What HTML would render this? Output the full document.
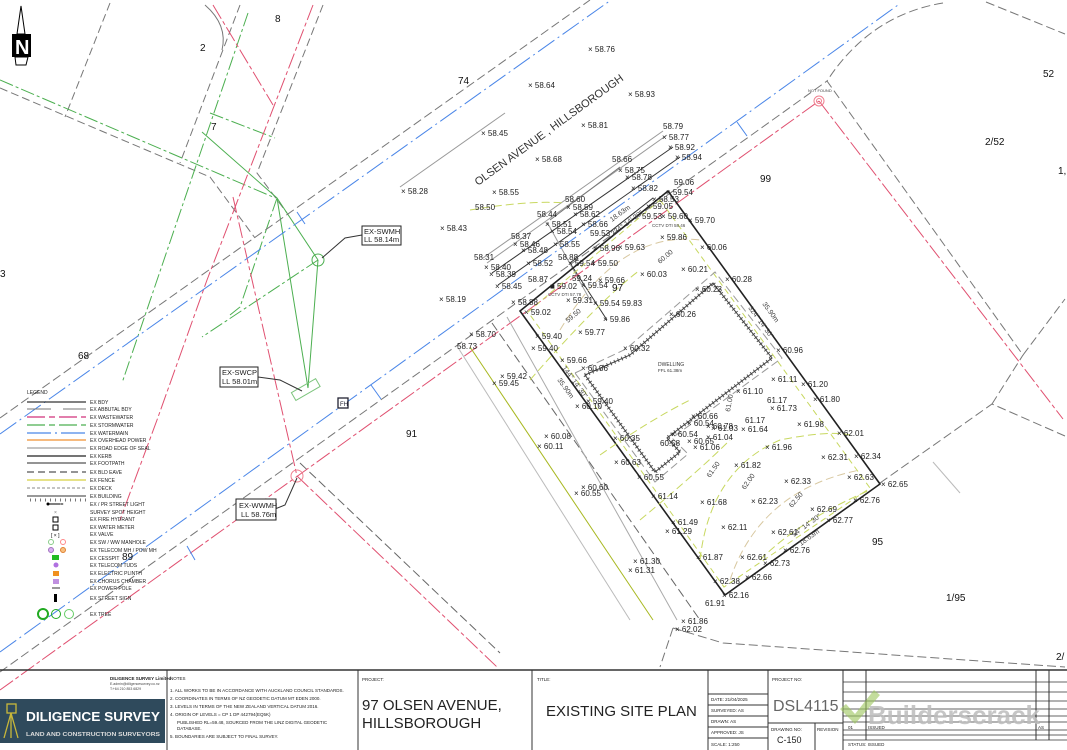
<!DOCTYPE html>
<html><head><meta charset="utf-8"><style>
html,body{margin:0;padding:0;background:#fff;}
svg{display:block;font-family:"Liberation Sans",sans-serif;}
text{font-family:"Liberation Sans",sans-serif;}
.s{font-size:8px;fill:#222;}
.t{font-size:5px;fill:#222;}
.lot{font-size:10px;fill:#111;}
</style></head><body>
<svg width="1067" height="750" viewBox="0 0 1067 750" xmlns="http://www.w3.org/2000/svg">
<rect width="1067" height="750" fill="#fff"/>
<!-- north arrow -->
<polygon points="21,6 25,34 17,34" fill="none" stroke="#000" stroke-width="1"/>
<rect x="12" y="34" width="19" height="23" fill="#000"/>
<text x="15" y="54" font-size="20" font-weight="bold" fill="#fff">N</text>
<polygon points="15,57 28,57 26,65 16,65" fill="none" stroke="#000" stroke-width="1"/>

<g fill="none" stroke-width="1">
<polyline points="0,88 210,177 255,238" stroke="#777" stroke-dasharray="8,4"/>
<line x1="110" y1="3" x2="65" y2="117" stroke="#777" stroke-dasharray="8,4"/>
<line x1="240" y1="5" x2="180" y2="163" stroke="#777" stroke-dasharray="8,4"/>
<polyline points="323,5 257,173 287,213" stroke="#777" stroke-dasharray="8,4"/>
<path d="M205,5 Q228,25 222,50" stroke="#777"/>
<line x1="0" y1="80" x2="273" y2="197" stroke="#4caf50" stroke-dasharray="14,3,3,3"/>
<line x1="248" y1="13" x2="122" y2="383" stroke="#4caf50" stroke-dasharray="14,3,3,3"/>
<line x1="210" y1="113" x2="275" y2="138" stroke="#4caf50" stroke-dasharray="14,3,3,3"/>
<polyline points="202,132 277,198 318,260" stroke="#4caf50"/>
<polyline points="277,198 240,307 230,315" stroke="#4caf50" stroke-dasharray="14,3,3,3"/>
<line x1="318" y1="260" x2="202" y2="337" stroke="#4caf50" stroke-dasharray="14,3,3,3"/>
<line x1="318" y1="260" x2="308" y2="388" stroke="#4caf50"/>
<line x1="277" y1="198" x2="308" y2="388" stroke="#4caf50"/>
<rect x="292" y="385" width="28" height="9" stroke="#7cc47c" transform="rotate(-30 306 390)"/>
<circle cx="318" cy="260" r="6" stroke="#4caf50"/>
<line x1="213" y1="5" x2="273" y2="105" stroke="#e05070" stroke-dasharray="16,3,4,3"/>
<polyline points="313,5 207,280 157,420 120,520" stroke="#e05070" stroke-dasharray="16,3,4,3"/>
<polyline points="233,197 297,476 497,667" stroke="#e05070" stroke-dasharray="16,3,4,3"/>
<line x1="0" y1="418" x2="590" y2="0" stroke="#777" stroke-dasharray="9,4"/>
<line x1="0" y1="434" x2="611" y2="0" stroke="#4a86e8" stroke-dasharray="20,4,2,4"/>
<line x1="297" y1="212" x2="305" y2="224" stroke="#4a86e8"/>
<line x1="400" y1="187" x2="505" y2="113" stroke="#999"/>
<line x1="487" y1="263" x2="667" y2="135" stroke="#999"/>
<line x1="483" y1="258" x2="663" y2="131" stroke="#999"/>
<line x1="492" y1="273" x2="673" y2="147" stroke="#333"/>
<line x1="498" y1="285" x2="680" y2="157" stroke="#333"/>
<line x1="550" y1="220" x2="620" y2="167" stroke="#777"/>
<line x1="570" y1="263" x2="653" y2="198" stroke="#333"/>
<line x1="570" y1="263" x2="607" y2="320" stroke="#333"/>
<line x1="547" y1="222" x2="590" y2="300" stroke="#999"/>
<line x1="0" y1="652" x2="898" y2="5" stroke="#4a86e8" stroke-dasharray="20,4,2,4"/>
<line x1="0" y1="672" x2="827" y2="81" stroke="#777" stroke-dasharray="9,4"/>
<line x1="0" y1="690" x2="819" y2="101" stroke="#e05070" stroke-dasharray="16,3,4,3"/>
<line x1="371" y1="385" x2="381" y2="399" stroke="#4a86e8"/>
<line x1="737" y1="122" x2="747" y2="136" stroke="#4a86e8"/>
<line x1="187" y1="546" x2="195" y2="560" stroke="#4a86e8"/>
<path d="M943,3 Q870,15 827,81 L1023,355 L1065,299" stroke="#777" stroke-dasharray="9,4"/>
<line x1="986" y1="2" x2="1065" y2="34" stroke="#777" stroke-dasharray="9,4"/>
<polyline points="880,483 992,404 1065,436" stroke="#777" stroke-dasharray="9,4"/>
<line x1="992" y1="404" x2="1023" y2="355" stroke="#777" stroke-dasharray="9,4"/>
<line x1="819" y1="101" x2="1063" y2="419" stroke="#e05070" stroke-dasharray="16,3,4,3"/>
<line x1="933" y1="462" x2="960" y2="493" stroke="#bbb"/>
<polyline points="673,628 723,643 1065,667" stroke="#777" stroke-dasharray="9,4"/>
<line x1="673" y1="628" x2="660" y2="667" stroke="#777" stroke-dasharray="9,4"/>
<line x1="300" y1="463" x2="500" y2="653" stroke="#666" stroke-dasharray="9,4"/>
<line x1="470" y1="347" x2="653" y2="620" stroke="#a8b820"/>
<line x1="492" y1="323" x2="700" y2="620" stroke="#666" stroke-dasharray="9,4"/>
<line x1="507" y1="317" x2="677" y2="620" stroke="#aaa"/>
<line x1="457" y1="346" x2="630" y2="620" stroke="#bbb"/>
<polygon points="668,191 880,484 725,595 520,311" stroke="#222" stroke-width="1.6"/>
<polygon points="660,200 870,488 724,587 528,312" stroke="#c8d860" stroke-dasharray="6,4"/>
<polygon points="585,375 630,355 713,283 772,358 667,438 680,452 655,472" stroke="#555" stroke-width="4" stroke-dasharray="1,3"/>
<polygon points="585,375 630,355 713,283 772,358 667,438 680,452 655,472" stroke="#444"/>
<polygon points="575,373 626,349 715,272 782,358 672,438 688,454 655,482" stroke="#999" stroke-dasharray="8,4"/>
<path d="M470,210 Q530,200 565,203" stroke="#c8d860" stroke-dasharray="8,4"/>
<path d="M560,330 Q620,230 700,240" stroke="#d8c8a0" stroke-dasharray="8,4"/>
<path d="M530,380 Q600,300 640,270" stroke="#c8d860" stroke-dasharray="8,4"/>
<path d="M700,560 Q710,470 780,440 Q830,430 850,435" stroke="#c8d860" stroke-dasharray="8,4"/>
<path d="M730,580 Q760,490 860,470" stroke="#d8c8a0" stroke-dasharray="8,4"/>
<path d="M760,560 Q800,520 870,490" stroke="#c8d860" stroke-dasharray="8,4"/>
<path d="M640,520 Q700,470 730,440" stroke="#c8d860" stroke-dasharray="8,4"/>
<path d="M600,455 Q650,420 690,400" stroke="#c8d860" stroke-dasharray="8,4"/>
<circle cx="297" cy="476" r="6" stroke="#f08090"/>
<circle cx="819" cy="101" r="5" stroke="#f08090"/>
<circle cx="819" cy="101" r="2.5" stroke="#f08090"/>
<polyline points="362,235 345,238 322,258" stroke="#333"/>
<polyline points="258,377 280,380 302,391" stroke="#333"/>
<polyline points="275,509 285,505 297,478" stroke="#333"/>
</g>
<rect x="338" y="398" width="10" height="10" fill="#fff" stroke="#223" stroke-width="1.3"/>
<text x="340" y="406" font-size="6" fill="#223">FH</text>
<rect x="362" y="226" width="39" height="19" fill="#fff" stroke="#222"/>
<text x="364" y="234" font-size="7.5" fill="#222">EX-SWMH</text><text x="364" y="242" font-size="7.5" fill="#222">LL 58.14m</text>
<rect x="220" y="367" width="38" height="20" fill="#fff" stroke="#222"/>
<text x="222" y="375" font-size="7.5" fill="#222">EX-SWCP</text><text x="222" y="384" font-size="7.5" fill="#222">LL 58.01m</text>
<rect x="236" y="499" width="40" height="21" fill="#fff" stroke="#222"/>
<text x="239" y="508" font-size="7.5" fill="#222">EX-WWMH</text><text x="241" y="517" font-size="7.5" fill="#222">LL 58.76m</text>
<text x="808" y="92" font-size="4" fill="#444">NOT FOUND</text>

<text x="478" y="186" font-size="11" fill="#333" transform="rotate(-36 478 186)">OLSEN AVENUE , HILLSBOROUGH</text>

<g class="lot">
<text x="200" y="51">2</text><text x="275" y="22">8</text><text x="211" y="130">7</text><text x="0" y="277">3</text>
<text x="78" y="359">68</text><text x="458" y="84">74</text><text x="760" y="182">99</text><text x="985" y="145">2/52</text>
<text x="1043" y="77">52</text><text x="1058" y="174">1,</text><text x="406" y="437">91</text><text x="122" y="560">89</text>
<text x="872" y="545">95</text><text x="946" y="601">1/95</text><text x="1056" y="660">2/</text><text x="612" y="291">97</text>
</g>

<g class="s">
<text x="588" y="52">× 58.76</text><text x="528" y="88">× 58.64</text><text x="628" y="97">× 58.93</text>
<text x="481" y="136">× 58.45</text><text x="581" y="128">× 58.81</text><text x="663" y="129">58.79</text>
<text x="662" y="140">× 58.77</text><text x="668" y="150">× 58.92</text><text x="675" y="160">× 58.94</text>
<text x="535" y="162">× 58.68</text><text x="612" y="162">58.66</text><text x="618" y="173">× 58.75</text>
<text x="625" y="180">× 58.78</text><text x="631" y="191">× 58.82</text><text x="674" y="185">59.06</text>
<text x="666" y="195">× 59.54</text><text x="401" y="194">× 58.28</text><text x="492" y="195">× 58.55</text>
<text x="475" y="210">58.50</text><text x="565" y="202">58.60</text><text x="566" y="210">× 58.59</text>
<text x="573" y="217">× 58.62</text><text x="652" y="202">× 58.53</text><text x="646" y="209">× 59.05</text>
<text x="537" y="217">58.44</text><text x="545" y="227">× 58.51</text><text x="581" y="227">× 58.66</text>
<text x="550" y="234">× 58.54</text><text x="590" y="236">59.53</text><text x="642" y="219">59.53</text>
<text x="661" y="219">× 59.60</text><text x="688" y="223">× 59.70</text><text x="440" y="231">× 58.43</text>
<text x="511" y="239">58.37</text><text x="513" y="247">× 58.46</text><text x="521" y="253">× 58.48</text>
<text x="553" y="247">× 58.55</text><text x="593" y="251">× 58.96</text><text x="618" y="250">× 59.63</text>
<text x="660" y="240">× 59.86</text><text x="700" y="250">× 60.06</text><text x="474" y="260">58.31</text>
<text x="484" y="270">× 58.40</text><text x="526" y="266">× 58.52</text><text x="558" y="260">58.88</text>
<text x="568" y="266">× 59.54</text><text x="591" y="266">× 59.50</text><text x="640" y="277">× 60.03</text>
<text x="681" y="272">× 60.21</text><text x="489" y="277">× 58.39</text><text x="528" y="282">58.87</text>
<text x="572" y="281">59.24</text><text x="598" y="283">× 59.66</text><text x="550" y="289">■ 59.02</text>
<text x="581" y="288">× 59.54</text><text x="725" y="282">× 60.28</text><text x="495" y="289">× 58.45</text>
<text x="695" y="292">× 60.23</text><text x="439" y="302">× 58.19</text><text x="566" y="303">× 59.31</text>
<text x="593" y="306">× 59.54</text><text x="622" y="306">59.83</text><text x="511" y="305">× 58.88</text>
<text x="524" y="315">× 59.02</text><text x="603" y="322">× 59.86</text><text x="669" y="317">× 60.26</text>
<text x="578" y="335">× 59.77</text><text x="469" y="337">× 58.70</text><text x="457" y="349">58.73</text>
<text x="535" y="339">× 59.40</text><text x="531" y="351">× 59.40</text><text x="623" y="351">× 60.32</text>
<text x="776" y="353">× 60.96</text><text x="560" y="363">× 59.66</text><text x="581" y="371">× 60.36</text>
<text x="500" y="379">× 59.42</text><text x="492" y="386">× 59.45</text><text x="771" y="382">× 61.11</text>
<text x="801" y="387">× 61.20</text><text x="736" y="394">× 61.10</text><text x="813" y="402">× 61.80</text>
<text x="586" y="404">× 59.40</text><text x="575" y="409">× 60.10</text><text x="767" y="403">61.17</text>
<text x="770" y="411">× 61.73</text><text x="797" y="427">× 61.98</text><text x="691" y="419">× 60.66</text>
<text x="687" y="426">× 60.54</text><text x="706" y="429">× 60.78</text><text x="711" y="431">× 61.03</text>
<text x="745" y="423">61.17</text><text x="741" y="432">× 61.64</text><text x="837" y="436">× 62.01</text>
<text x="544" y="439">× 60.08</text><text x="537" y="449">× 60.11</text><text x="671" y="437">× 60.54</text>
<text x="660" y="446">60.58</text><text x="687" y="444">× 60.65</text><text x="706" y="440">× 61.04</text>
<text x="693" y="450">× 61.06</text><text x="613" y="441">× 60.35</text><text x="765" y="450">× 61.96</text>
<text x="821" y="460">× 62.31</text><text x="854" y="459">× 62.34</text><text x="734" y="468">× 61.82</text>
<text x="614" y="465">× 60.63</text><text x="637" y="480">× 60.55</text><text x="847" y="480">× 62.63</text>
<text x="784" y="484">× 62.33</text><text x="581" y="490">× 60.60</text><text x="574" y="496">× 60.55</text>
<text x="651" y="499">× 61.14</text><text x="700" y="505">× 61.68</text><text x="751" y="504">× 62.23</text>
<text x="853" y="503">× 62.76</text><text x="881" y="487">× 62.65</text><text x="810" y="512">× 62.69</text>
<text x="826" y="523">× 62.77</text><text x="671" y="525">× 61.49</text><text x="665" y="534">× 61.29</text>
<text x="721" y="530">× 62.11</text><text x="771" y="535">× 62.61</text><text x="783" y="553">× 62.76</text>
<text x="696" y="560">× 61.87</text><text x="740" y="560">× 62.61</text><text x="763" y="566">× 62.73</text>
<text x="633" y="564">× 61.30</text><text x="628" y="573">× 61.31</text><text x="745" y="580">× 62.66</text>
<text x="713" y="584">× 62.38</text><text x="722" y="598">× 62.16</text><text x="705" y="606">61.91</text>
<text x="681" y="624">× 61.86</text><text x="675" y="632">× 62.02</text>
</g>
<g font-size="7" fill="#444">
<text x="660" y="264" transform="rotate(-40 660 264)">60.00</text>
<text x="568" y="323" transform="rotate(-40 568 323)">59.50</text>
<text x="730" y="412" transform="rotate(-80 730 412)">61.00</text>
<text x="710" y="478" transform="rotate(-55 710 478)">61.50</text>
<text x="745" y="490" transform="rotate(-55 745 490)">62.00</text>
<text x="792" y="508" transform="rotate(-50 792 508)">62.50</text>
<text x="612" y="222" transform="rotate(-36 612 222)">18.63m</text>
<text x="613" y="236" transform="rotate(-36 613 236)">234° 14' 30"</text>
<text x="762" y="304" transform="rotate(54 762 304)">35.90m</text>
<text x="748" y="308" transform="rotate(54 748 308)">324° 14' 30"</text>
<text x="562" y="368" transform="rotate(54 562 368)">144° 14' 30"</text>
<text x="557" y="380" transform="rotate(54 557 380)">35.90m</text>
<text x="794" y="537" transform="rotate(-36 794 537)">54° 14' 30"</text>
<text x="801" y="546" transform="rotate(-36 801 546)">18.63m</text>
</g>
<text x="652" y="227" font-size="4.5" fill="#444">CCTV DTI 58.46</text>
<text x="548" y="296" font-size="4.5" fill="#444">CCTV DTI 57.78</text>
<text x="658" y="366" font-size="5" fill="#333">DWELLING</text>
<text x="658" y="372" font-size="4.5" fill="#333">FFL 61.38m</text>

<text x="27" y="394" class="t">LEGEND</text>
<g stroke-width="1" fill="none">
<line x1="27" y1="402" x2="86" y2="402" stroke="#000"/>
<line x1="27" y1="409" x2="86" y2="409" stroke="#777" stroke-dasharray="24,12"/>
<line x1="27" y1="417" x2="86" y2="417" stroke="#d0307a" stroke-dasharray="18,4,6,4" stroke-width="1.3"/>
<line x1="27" y1="425" x2="86" y2="425" stroke="#4caf50" stroke-dasharray="18,4,6,4" stroke-width="1.3"/>
<line x1="27" y1="433" x2="86" y2="433" stroke="#4a86e8" stroke-dasharray="24,4,2,4" stroke-width="1.3"/>
<line x1="27" y1="440" x2="86" y2="440" stroke="#f09030" stroke-width="1.3"/>
<line x1="27" y1="448" x2="86" y2="448" stroke="#888"/>
<line x1="27" y1="456" x2="86" y2="456" stroke="#222" stroke-width="1.3"/>
<line x1="27" y1="463" x2="86" y2="463" stroke="#555" stroke-width="1.3"/>
<line x1="27" y1="472" x2="86" y2="472" stroke="#555" stroke-dasharray="7,4" stroke-width="1.3"/>
<line x1="27" y1="480" x2="86" y2="480" stroke="#d8d040" stroke-width="1.3"/>
<line x1="27" y1="488" x2="86" y2="488" stroke="#888" stroke-dasharray="3,2"/>
<line x1="27" y1="496" x2="86" y2="496" stroke="#333"/>
<line x1="30" y1="500" x2="86" y2="500" stroke="#777" stroke-width="3" stroke-dasharray="1,4"/>
</g>
<g class="t">
<text x="90" y="404">EX BDY</text><text x="90" y="411">EX ABBUTAL BDY</text><text x="90" y="419">EX WASTEWATER</text>
<text x="90" y="427">EX STORMWATER</text><text x="90" y="435">EX WATERMAIN</text><text x="90" y="442">EX OVERHEAD POWER</text>
<text x="90" y="450">EX ROAD EDGE OF SEAL</text><text x="90" y="458">EX KERB</text><text x="90" y="465">EX FOOTPATH</text>
<text x="90" y="474">EX BLD EAVE</text><text x="90" y="482">EX FENCE</text><text x="90" y="490">EX DECK</text>
<text x="90" y="498">EX BUILDING</text><text x="90" y="506">EX / PR STREET LIGHT</text><text x="90" y="514">SURVEY SPOT HEIGHT</text>
<text x="90" y="521">EX FIRE HYDRANT</text><text x="90" y="529">EX WATER METER</text><text x="90" y="536">EX VALVE</text>
<text x="90" y="544">EX SW / WW MANHOLE</text><text x="90" y="552">EX TELECOM MH / POW MH</text><text x="90" y="560">EX CESSPIT</text>
<text x="90" y="567">EX TELECOM TUDS</text><text x="90" y="575">EX ELECTRIC PLINTH</text><text x="90" y="583">EX CHORUS CHAMBER</text>
<text x="90" y="590">EX POWER POLE</text><text x="90" y="600">EX STREET SIGN</text><text x="90" y="616">EX TREE</text>
</g>
<g>
<line x1="48" y1="504" x2="60" y2="504" stroke="#000"/><circle cx="48" cy="504" r="1.5"/><text x="60" y="506" font-size="6">=</text>
<text x="54" y="514" font-size="5" fill="#777">×</text>
<rect x="53" y="517" width="5" height="5" fill="none" stroke="#000"/>
<rect x="53" y="525" width="5" height="5" fill="none" stroke="#000"/>
<text x="51" y="537" font-size="5">[ × ]</text>
<circle cx="51" cy="542" r="2.5" fill="none" stroke="#8c8"/><circle cx="63" cy="542" r="2.5" fill="none" stroke="#f88"/>
<circle cx="51" cy="550" r="2.5" fill="#d9b0f0" stroke="#a070c0"/><circle cx="63" cy="550" r="2.5" fill="#f8c080" stroke="#e08030"/>
<rect x="52" y="555" width="7" height="5" fill="#22bb22"/>
<circle cx="56" cy="565" r="2.5" fill="#b070e0"/>
<rect x="53" y="571" width="6" height="5" fill="#f09020"/>
<rect x="53" y="579" width="6" height="5" fill="#c090e0"/>
<line x1="52" y1="588" x2="60" y2="588" stroke="#333"/>
<rect x="54" y="594" width="3" height="8" fill="#000"/>
<circle cx="43" cy="614" r="5" fill="none" stroke="#2a2" stroke-width="2"/>
<circle cx="56" cy="614" r="4.5" fill="none" stroke="#2a2"/>
<circle cx="69" cy="614" r="4.5" fill="none" stroke="#6c6"/>
</g>

<!-- title block -->
<g fill="none" stroke="#333" stroke-width="1">
<line x1="0" y1="670" x2="1067" y2="670" stroke-width="1.5"/>
<line x1="167" y1="670" x2="167" y2="750"/><line x1="358" y1="670" x2="358" y2="750"/>
<line x1="532" y1="670" x2="532" y2="750"/><line x1="708" y1="670" x2="708" y2="750"/>
<line x1="768" y1="670" x2="768" y2="750"/><line x1="843" y1="670" x2="843" y2="750"/>
<line x1="708" y1="694" x2="768" y2="694"/><line x1="708" y1="705" x2="768" y2="705"/>
<line x1="708" y1="716" x2="768" y2="716"/><line x1="708" y1="727" x2="768" y2="727"/><line x1="708" y1="738" x2="768" y2="738"/>
<line x1="768" y1="723" x2="843" y2="723"/><line x1="815" y1="723" x2="815" y2="750"/>
<line x1="866" y1="670" x2="866" y2="740"/><line x1="1036" y1="670" x2="1036" y2="740"/><line x1="1049" y1="670" x2="1049" y2="740"/>
<g stroke-width="0.7">
<line x1="843" y1="682" x2="1067" y2="682"/><line x1="843" y1="692" x2="1067" y2="692"/><line x1="843" y1="701" x2="1067" y2="701"/>
<line x1="843" y1="709" x2="1067" y2="709"/><line x1="843" y1="716" x2="1067" y2="716"/><line x1="843" y1="722" x2="1067" y2="722"/>
<line x1="843" y1="730" x2="1067" y2="730"/><line x1="843" y1="735" x2="1067" y2="735"/><line x1="843" y1="740" x2="1067" y2="740"/>
</g>
</g>
<text x="110" y="680" font-size="4.5" font-weight="bold" fill="#222">DILIGENCE SURVEY Limited</text>
<text x="110" y="685" font-size="3.5" fill="#444">E.admin@diligencesurvey.co.nz</text>
<text x="110" y="690" font-size="3.5" fill="#444">T:+64 210 853 6829</text>
<rect x="0" y="699" width="165" height="44" fill="#2f4a5c"/>
<g stroke="#c9b83a" stroke-width="1.3" fill="none"><rect x="7" y="704" width="9" height="9"/><line x1="11" y1="713" x2="4" y2="738"/><line x1="11" y1="713" x2="18" y2="738"/><line x1="11" y1="713" x2="11" y2="738"/></g>
<text x="26" y="721" font-size="13" font-weight="bold" fill="#fff" textLength="134" lengthAdjust="spacingAndGlyphs">DILIGENCE SURVEY</text>
<text x="26" y="736" font-size="5" font-weight="bold" fill="#ddd" textLength="134" lengthAdjust="spacingAndGlyphs">LAND AND CONSTRUCTION SURVEYORS</text>
<g font-size="4.5" fill="#222">
<text x="170" y="680">NOTES</text>
<text x="170" y="692">1.  ALL WORKS TO BE IN ACCORDANCE WITH AUCKLAND COUNCIL STANDARDS.</text>
<text x="170" y="700">2.  COORDINATES IN TERMS OF NZ GEODETIC DATUM MT EDEN 2000.</text>
<text x="170" y="708">3.  LEVELS IN TERMS OF THE NEW ZEALAND VERTICAL DATUM 2016.</text>
<text x="170" y="716">4.  ORIGIN OF LEVELS = CP 1 DP 442794(EQ5K)</text>
<text x="177" y="724">PUBLISHED RL=59.48, SOURCED FROM THE LINZ DIGITAL GEODETIC</text>
<text x="177" y="730">DATABASE.</text>
<text x="170" y="738">5.  BOUNDARIES ARE SUBJECT TO FINAL SURVEY.</text>
<text x="362" y="681">PROJECT:</text><text x="537" y="681">TITLE:</text><text x="772" y="681">PROJECT NO:</text>
<text x="711" y="701">DATE:   21/04/2025</text><text x="711" y="712">SURVEYED:  AS</text><text x="711" y="723">DRAWN:   AS</text>
<text x="711" y="734">APPROVED:  JS</text><text x="711" y="746">SCALE:  1:250</text>
<text x="771" y="731">DRAWING NO:</text><text x="817" y="731">REVISION</text>
<text x="848" y="729">01</text><text x="868" y="729">ISSUED</text><text x="1038" y="729">AS</text>
<text x="848" y="746">STATUS:   ISSUED</text>
</g>
<text x="362" y="710" font-size="15" fill="#222">97 OLSEN AVENUE,</text>
<text x="362" y="728" font-size="15" fill="#222">HILLSBOROUGH</text>
<text x="546" y="716" font-size="15" fill="#222">EXISTING SITE PLAN</text>
<text x="773" y="711" font-size="16" fill="#666">DSL4115</text>
<text x="777" y="743" font-size="9" fill="#222">C-150</text>
<polygon points="846,704 855,714 874,690 880,695 855,724 840,709" fill="#9bc45a" opacity="0.6"/>
<text x="868" y="724" font-size="26" font-weight="bold" fill="#bdbdbd" opacity="0.85" textLength="172" lengthAdjust="spacingAndGlyphs">Builderscrack</text>
</svg>
</body></html>
